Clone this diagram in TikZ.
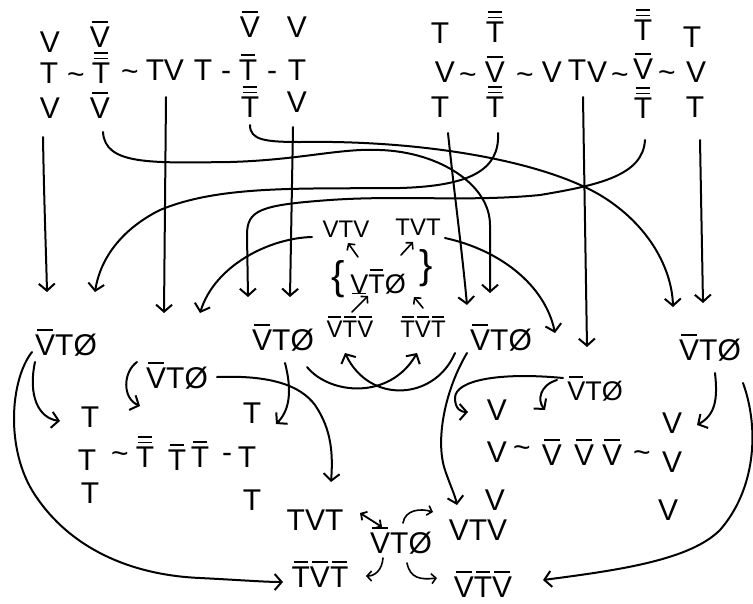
\documentclass[tikz,border=0pt]{standalone}
\usepackage{fontspec}
\setmainfont{Liberation Sans}
\usetikzlibrary{arrows.meta,calc}
\newsavebox\obbox
\newlength\barw \setlength\barw{1.8pt}
\newcommand\ob[1]{\sbox\obbox{#1}\rlap{\hbox to \wd\obbox{\hss\raisebox{\dimexpr\ht\obbox+0.12em\relax}{\rule{0.8\wd\obbox}{\barw}}\hss}}\usebox\obbox}
\newcommand\obb[1]{\sbox\obbox{#1}\rlap{\hbox to \wd\obbox{\hss\raisebox{\dimexpr\ht\obbox+0.1em\relax}{\rule{0.8\wd\obbox}{\barw}}\hss}}\rlap{\hbox to \wd\obbox{\hss\raisebox{\dimexpr\ht\obbox+0.28em\relax}{\rule{0.8\wd\obbox}{\barw}}\hss}}\usebox\obbox}
\newcommand\ub[1]{\sbox\obbox{#1}\rlap{\hbox to \wd\obbox{\hss\raisebox{-0.05em}{\rule{0.8\wd\obbox}{\barw}}\hss}}\usebox\obbox}
\tikzset{
  g/.style={font=\fontsize{30}{30}\selectfont, inner sep=0pt, anchor=base},
  gm/.style={font=\fontsize{27}{27}\selectfont, inner sep=0pt, anchor=base},
  gs/.style={font=\fontsize{24}{24}\selectfont, inner sep=0pt, anchor=base},
  brace/.style={font=\fontsize{40}{40}\selectfont, inner sep=0pt},
  conn/.style={line width=2pt, line cap=round, -{Straight Barb[length=7pt,width=16pt]}},
  sconn/.style={line width=1.6pt, line cap=round, -{Straight Barb[length=4.5pt,width=10pt]}},
  dconn/.style={line width=1.8pt, line cap=round, {Straight Barb[length=4.5pt,width=10pt]}-{Straight Barb[length=4.5pt,width=10pt]}}
}
\begin{document}
\begin{tikzpicture}[x=1pt,y=-1pt]
\fill[white] (0,0) rectangle (753,603);
\useasboundingbox (0,0) rectangle (753,603);
% top-left block
\node[g] (a11) at (50,52) {V};
\node[g] (a12) at (100,47) {\ob{V}};
\node[g] (a13) at (250,37) {\ob{V}};
\node[g] (a14) at (297,37) {V};
\node[g] (a21) at (49,83) {T};
\node[g] (a22) at (76,84) {\textasciitilde};
\node[g] (a23) at (101,83) {\obb{T}};
\node[g] (a24) at (130,81) {\textasciitilde};
\node[g] (a25) at (155,80) {T};
\node[g] (a26) at (174,80) {V};
\node[g] (a27) at (203,80) {T};
\node[g] (a28) at (226,80) {-};
\node[g] (a29) at (248,80) {\ob{T}};
\node[g] (a2a) at (272,80) {-};
\node[g] (a2b) at (297,80) {T};
\node[g] (a31) at (50,118) {V};
\node[g] (a32) at (100,118) {\ob{V}};
\node[g] (a33) at (250,117) {\obb{T}};
\node[g] (a34) at (297,112) {V};
% top-right block
\node[g] (b11) at (440,43) {T};
\node[g] (b12) at (495,42) {\obb{T}};
\node[g] (b13) at (643,40) {\obb{T}};
\node[g] (b14) at (692,47) {T};
\node[g] (b21) at (445,82) {V};
\node[g] (b22) at (468,84) {\textasciitilde};
\node[g] (b23) at (495,82) {\ob{V}};
\node[g] (b24) at (525,84) {\textasciitilde};
\node[g] (b25) at (552,82) {V};
\node[g] (b26) at (577,80) {T};
\node[g] (b27) at (597,82) {V};
\node[g] (b28) at (620,84) {\textasciitilde};
\node[g] (b29) at (643,79) {\ob{V}};
\node[g] (b2a) at (667,82) {\textasciitilde};
\node[g] (b2b) at (696,82) {V};
\node[g] (b31) at (440,117) {T};
\node[g] (b32) at (495,117) {\obb{T}};
\node[g] (b33) at (643,118) {\obb{T}};
\node[g] (b34) at (695,117) {T};
% middle
\node[g] (A) at (66,355) {\ob{V}TØ};
\node[g] (B) at (177,388) {\ob{V}TØ};
\node[g] (C) at (283,350) {\ob{V}TØ};
\node[gs] (D) at (350,337) {\ob{V}\ob{T}\ob{V}};
\node[gs] (E) at (423,337) {\ob{T}\ob{V}\ob{T}};
\node[gs] (F) at (346,237) {VTV};
\node[gs] (G) at (418,235) {TVT};
\node[gm] (H) at (378,293) {\ub{V}\ob{T}Ø};
\node[g] (I) at (501,350) {\ob{V}TØ};
\node[g] (J) at (710,360) {\ob{V}TØ};
\node[gm] (K) at (595,400) {\ob{V}TØ};
\node[brace] (lb) at (338,279) {\{};
\node[brace] (rb) at (426,268) {\}};
% lower left
\node[g] (l1) at (90,427) {T};
\node[g] (l2) at (87,470) {T};
\node[g] (l3) at (120,463) {\textasciitilde};
\node[g] (l4) at (145,467) {\obb{T}};
\node[g] (l5) at (177,470) {\ob{T}};
\node[g] (l6) at (200,467) {\ob{T}};
\node[g] (l7) at (227,462) {-};
\node[g] (l8) at (247,467) {T};
\node[g] (l9) at (90,503) {T};
\node[g] (l10) at (252,423) {T};
\node[g] (l11) at (252,510) {T};
% lower right
\node[g] (r1) at (497,420) {V};
\node[g] (r2) at (497,462) {V};
\node[g] (r3) at (522,457) {\textasciitilde};
\node[g] (r4) at (552,465) {\ob{V}};
\node[g] (r5) at (584,465) {\ob{V}};
\node[g] (r6) at (612,465) {\ob{V}};
\node[g] (r7) at (642,462) {\textasciitilde};
\node[g] (r8) at (672,472) {V};
\node[g] (r9) at (672,433) {V};
\node[g] (r10) at (668,520) {V};
\node[g] (r11) at (495,510) {V};
% bottom
\node[g] (P) at (315,530) {TVT};
\node[g] (M) at (401,553) {\ob{V}TØ};
\node[g] (Q) at (478,540) {VTV};
\node[g] (R) at (320,587) {\ob{T}\ob{V}\ob{T}};
\node[g] (S) at (483,597) {\ob{V}\ob{T}\ob{V}};
% connectors from the top blocks
\draw[conn] ($(a31.base)+(-7,19)$) .. controls (44,200) and (46,250) .. ($(A.base)+(-19,-63)$);
\draw[conn] ($(a32.base)+(3,14)$) .. controls (105,165) and (150,163) .. (230,162) .. controls (300,160) and (340,148) .. (380,150) .. controls (440,152) and (490,185) .. (490,225) -- ($(I.base)+(-11,-57)$);
\draw[conn] ($(a33.base)+(0,8)$) .. controls (250,140) and (265,142) .. (300,142) .. controls (420,140) and (540,160) .. (600,195) .. controls (650,225) and (672,270) .. ($(J.base)+(-37,-53)$);
\draw[conn] ($(b32.base)+(3,16)$) .. controls (500,170) and (470,186) .. (400,188) .. controls (300,189) and (220,185) .. (160,210) .. controls (120,230) and (100,260) .. ($(A.base)+(29,-63)$);
\draw[conn] ($(b33.base)+(2,22)$) .. controls (643,175) and (600,185) .. (540,195) .. controls (470,202) and (400,195) .. (330,200) .. controls (260,205) and (247,210) .. (247,235) -- ($(C.base)+(-35,-53)$);
\draw[conn] ($(b31.base)+(8,16)$) .. controls (455,200) and (462,250) .. ($(I.base)+(-34,-45)$);
\draw[conn] ($(b34.base)+(5,23)$) -- ($(J.base)+(-7,-57)$);
\draw[conn] ($(b26.base)+(6,17)$) -- ($(K.base)+(-8,-53)$);
\draw[conn] ($(a26.base)+(-8,17)$) -- ($(B.base)+(-13,-75)$);
\draw[conn] ($(a34.base)+(-4,15)$) -- ($(C.base)+(7,-53)$);
\draw[conn] ($(F.base)+(-34,0)$) .. controls (270,238) and (215,265) .. ($(B.base)+(23,-75)$);
\draw[conn] ($(G.base)+(27,3)$) .. controls (500,250) and (545,285) .. ($(K.base)+(-40,-67)$);
% centre
\draw[sconn] ($(H.base)+(-20,-36)$) -- ($(F.base)+(2,6)$);
\draw[sconn] ($(H.base)+(23,-38)$) -- ($(G.base)+(-5,7)$);
\draw[sconn] ($(D.base)+(2,-25)$) -- ($(H.base)+(-10,3)$);
\draw[sconn] ($(E.base)+(0,-29)$) -- ($(H.base)+(36,4)$);
% lower connectors
\draw[conn] ($(A.base)+(-31,7)$) .. controls (28,395) and (38,418) .. ($(l1.base)+(-30,-6)$);
\draw[conn] ($(A.base)+(-34,-3)$) .. controls (10,380) and (5,450) .. (35,495) .. controls (70,548) and (130,575) .. (200,578) .. controls (240,580) and (265,582) .. ($(R.base)+(-37,-5)$);
\draw[conn] ($(B.base)+(-40,-26)$) .. controls (123,372) and (122,398) .. ($(l4.base)+(-5,-61)$);
\draw[conn] ($(B.base)+(40,-11)$) .. controls (270,375) and (300,385) .. (315,405) .. controls (332,430) and (333,455) .. ($(P.base)+(16,-48)$);
\draw[conn] ($(C.base)+(2,13)$) .. controls (292,390) and (290,410) .. ($(l10.base)+(24,1)$);
\draw[conn] ($(C.base)+(24,17)$) .. controls (330,395) and (390,400) .. ($(E.base)+(-6,16)$);
\draw[conn] ($(I.base)+(-46,3)$) .. controls (435,400) and (370,405) .. ($(D.base)+(-5,16)$);
\draw[conn] ($(I.base)+(-34,3)$) .. controls (445,390) and (435,440) .. (445,470) .. controls (450,485) and (455,495) .. ($(Q.base)+(-21,-35)$);
\draw[conn] ($(K.base)+(-32,-22)$) .. controls (500,372) and (455,380) .. (455,398) .. controls (455,410) and (462,412) .. ($(r1.base)+(-29,-8)$);
\draw[conn] ($(K.base)+(-38,-20)$) .. controls (540,385) and (537,400) .. ($(r4.base)+(-7,-55)$);
\draw[conn] ($(J.base)+(5,13)$) .. controls (718,400) and (715,415) .. ($(r9.base)+(25,-8)$);
\draw[conn] ($(J.base)+(33,23)$) .. controls (760,430) and (755,490) .. (720,530) .. controls (690,560) and (620,570) .. ($(S.base)+(60,-17)$);
% bottom cluster
\draw[dconn] ($(P.base)+(45,-17)$) -- ($(M.base)+(-19,-26)$);
\draw[sconn] ($(M.base)+(2,-30)$) .. controls (405,510) and (420,508) .. ($(Q.base)+(-45,-28)$);
\draw[sconn] ($(M.base)+(-18,5)$) .. controls (382,570) and (375,576) .. ($(R.base)+(46,-11)$);
\draw[sconn] ($(M.base)+(6,10)$) .. controls (410,578) and (420,580) .. ($(S.base)+(-46,-19)$);
\end{tikzpicture}
\end{document}
